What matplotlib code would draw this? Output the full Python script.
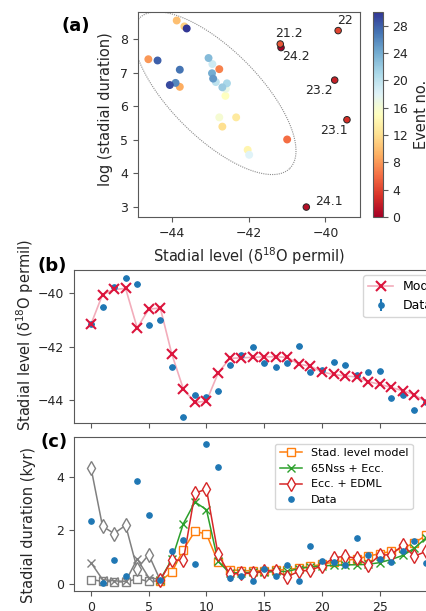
import numpy as np
import matplotlib
matplotlib.use("Agg")
from matplotlib import pyplot as plt
from matplotlib.lines import Line2D

# event index and event names of the labelled (early) events
event = np.arange(31)
names = ["24.2", "24.1", "23.2", "23.1", "22", "21.2"]

# stadial level data (d18O permil), events 0..30
level_data = np.array([-41.16, -40.50, -39.76, -39.44, -39.67, -41.18, -41.00, -42.77,
                       -44.62, -43.80, -43.88, -43.68, -42.69, -42.33, -42.03, -42.61,
                       -42.77, -42.60, -41.99, -42.95, -42.86, -42.57, -42.69, -43.05,
                       -42.96, -42.93, -43.91, -43.80, -44.38, -44.06, -43.62])
# stadial duration data (kyr)
dur_data = np.array([2.32, 0.02, 0.88, 0.27, 3.85, 2.58, 0.15, 1.22, 1.64, 0.72, 5.20,
                     4.36, 0.22, 0.29, 0.11, 0.55, 0.29, 0.68, 0.095, 1.42, 0.83, 0.80,
                     0.71, 1.70, 1.08, 0.92, 0.81, 1.20, 1.58, 0.76, 4.10])

# modelled stadial level, events 0..29
level_model = np.array([-41.16, -40.05, -39.86, -39.82, -41.30, -40.60, -40.55, -42.28,
                        -43.59, -44.09, -44.04, -43.00, -42.44, -42.42, -42.40, -42.38,
                        -42.38, -42.40, -42.66, -42.73, -42.95, -43.04, -43.10, -43.13,
                        -43.31, -43.41, -43.53, -43.65, -43.80, -44.07])

# modelled stadial durations (kyr), events 0..29
dur_stad = np.array([0.15, 0.08, 0.06, 0.06, 0.18, 0.08, 0.10, 0.42, 1.27, 1.95, 1.85,
                     0.80, 0.52, 0.48, 0.48, 0.48, 0.50, 0.52, 0.58, 0.64, 0.72, 0.80,
                     0.86, 0.92, 1.02, 1.12, 1.20, 1.32, 1.52, 1.80])
dur_65n = np.array([0.78, 0.15, 0.10, 0.08, 0.92, 0.22, 0.15, 0.90, 2.24, 3.05, 2.76,
                    0.83, 0.40, 0.40, 0.42, 0.42, 0.45, 0.45, 0.56, 0.62, 0.66, 0.68,
                    0.70, 0.70, 0.72, 0.78, 0.90, 1.05, 1.32, 1.70])
dur_edml = np.array([4.33, 2.14, 1.87, 2.18, 0.55, 1.08, 0.12, 0.88, 0.87, 3.38, 3.53,
                     1.10, 0.35, 0.38, 0.38, 0.48, 0.48, 0.25, 0.46, 0.50, 0.66, 0.96,
                     1.02, 0.94, 0.68, 1.06, 1.08, 1.43, 1.02, 1.20])

# ellipse (centre, two conjugate semi-axes in data units)
ell_center = (-42.89, 6.39)
ell_major = (1.96, -2.24)
ell_minor = (0.81, 0.93)

n_grey = 6   # first events drawn in grey in (c)

plt.rcParams["font.family"] = "DejaVu Sans"
plt.rcParams["axes.edgecolor"] = "0.35"
plt.rcParams["xtick.color"] = "0.35"
plt.rcParams["ytick.color"] = "0.35"
plt.rcParams["xtick.labelcolor"] = "0.15"
plt.rcParams["ytick.labelcolor"] = "0.15"
plt.rcParams["xtick.labelsize"] = 9
plt.rcParams["ytick.labelsize"] = 9
plt.rcParams["axes.labelsize"] = 10.5
plt.rcParams["axes.labelcolor"] = "0.15"

W, H = 427, 611
fig = plt.figure(figsize=(W / 100, H / 100), dpi=100)

def px(l, t, w, h):
    return [l / W, 1 - (t + h) / H, w / W, h / H]

# ---- (a)
ax_a = fig.add_axes(px(138, 12, 222, 205))
cax = fig.add_axes(px(372.7, 12, 10, 205))

logdur = np.log(dur_data * 1000)
t = np.linspace(0, 2 * np.pi, 300)
ex = ell_center[0] + np.cos(t) * ell_major[0] + np.sin(t) * ell_minor[0]
ey = ell_center[1] + np.cos(t) * ell_major[1] + np.sin(t) * ell_minor[1]
ax_a.plot(ex, ey, ls=(0, (1, 1)), color="0.55", lw=0.8)

cm = plt.get_cmap("RdYlBu")
sc = ax_a.scatter(level_data[n_grey:], logdur[n_grey:], c=event[n_grey:], cmap=cm,
                  vmin=0, vmax=30, s=22, zorder=3)
ax_a.scatter(level_data[:n_grey], logdur[:n_grey], c=event[:n_grey], cmap=cm,
             vmin=0, vmax=30, s=22, edgecolors="0.15", linewidths=0.7, zorder=3)
offs = [(15, -9), (23, 6), (-16, -10), (-13, -11), (7, 10), (9, 11)]
for i, nm in enumerate(names):
    ax_a.annotate(nm, (level_data[i], logdur[i]), xytext=offs[i], textcoords="offset pixels",
                  ha="center", va="center", fontsize=9, color="0.15")
ax_a.set_xlim(-44.89, -39.1)
ax_a.set_ylim(2.7, 8.81)
ax_a.set_xticks([-44, -42, -40])
ax_a.set_yticks([3, 4, 5, 6, 7, 8])
ax_a.set_xlabel("Stadial level (δ$^{18}$O permil)")
ax_a.set_ylabel("log (stadial duration)")
ax_a.yaxis.set_label_coords(-0.113, 0.527)
cb = fig.colorbar(sc, cax=cax, ticks=range(0, 30, 4))
cb.set_label("Event no.", fontsize=10.5)
cb.outline.set_edgecolor("0.35")

# ---- (b)
xl = (-1.47, 31.5)
ax_b = fig.add_axes(px(74, 270, 380.8, 153))
ax_b.plot(event[:len(level_model)], level_model, "-", color="crimson", alpha=0.35, lw=1.2)
ax_b.plot(event[:len(level_model)], level_model, "x", color="crimson", ms=6.5, mew=1.5,
          zorder=4)
ax_b.errorbar(event, level_data, yerr=np.zeros(len(event)), fmt="o", ms=3.8,
              color="tab:blue", capsize=2, zorder=3)
ax_b.set_xlim(*xl)
ax_b.set_ylim(-44.86, -39.13)
ax_b.set_yticks([-44, -42, -40])
ax_b.set_xticks(range(0, 35, 5))
ax_b.tick_params(labelbottom=False)
ax_b.set_ylabel("Stadial level (δ$^{18}$O permil)")
ax_b.yaxis.set_label_coords(-0.099, 0.575)
h_model = (Line2D([], [], color="crimson", alpha=0.35, lw=1.2),
           Line2D([], [], ls="none", marker="x", color="crimson", ms=6.5, mew=1.5))
h_data = ax_b.errorbar([], [], yerr=[], fmt="o", ms=3.8, color="tab:blue", capsize=2)
ax_b.legend([h_model, h_data], ["Model", "Data"], loc="upper left",
            bbox_to_anchor=(0.759, 0.967), borderaxespad=0, fontsize=9)

# ---- (c)
ax_c = fig.add_axes(px(74, 437, 380.8, 154))
n = len(dur_stad)
styles = [(dur_stad, "s", "tab:orange", "Stad. level model", 5.5),
          (dur_65n, "x", "tab:green", "65Nss + Ecc.", 6),
          (dur_edml, "d", "tab:red", "Ecc. + EDML", 7)]
for y, mk, col, lab, ms in styles:
    ax_c.plot(event[:n_grey + 1], y[:n_grey + 1], "-", color="grey", lw=1.1)
    ax_c.plot(event[:n_grey], y[:n_grey], mk, color="grey", mfc="white", ms=ms, ls="none")
    ax_c.plot(event[n_grey:n], y[n_grey:], "-" + mk, color=col, mfc="white", ms=ms,
              lw=1.1, label=lab)
ax_c.plot(event[:-1], dur_data[:-1], "o", color="tab:blue", ms=3.8, ls="none", label="Data")
ax_c.set_xlim(*xl)
ax_c.set_ylim(-0.28, 5.48)
ax_c.set_yticks([0, 2, 4])
ax_c.set_xticks(range(0, 35, 5))
ax_c.set_ylabel("Stadial duration (kyr)")
ax_c.yaxis.set_label_coords(-0.099, 0.43)
ax_c.legend(loc="upper left", bbox_to_anchor=(0.528, 0.955), borderaxespad=0, fontsize=8)

fig.text(76 / W, 1 - 26 / H, "(a)", fontsize=13, fontweight="bold", ha="center", va="center")
fig.text(52 / W, 1 - 266 / H, "(b)", fontsize=13, fontweight="bold", ha="center", va="center")
fig.text(54 / W, 1 - 442 / H, "(c)", fontsize=13, fontweight="bold", ha="center", va="center")

fig.savefig("out.png", dpi=100)
